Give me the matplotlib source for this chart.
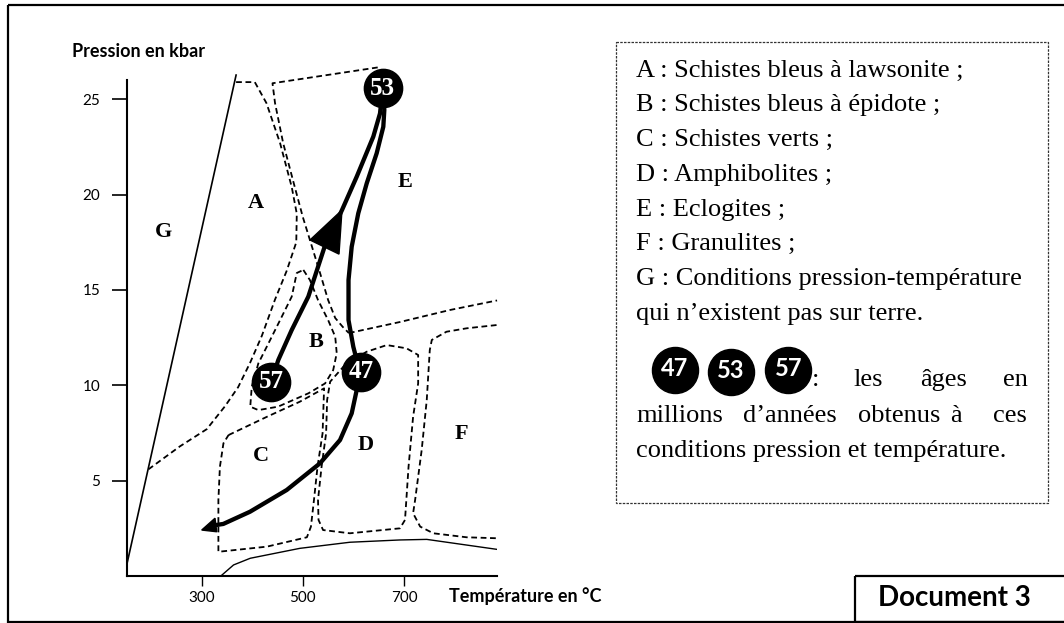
import matplotlib
matplotlib.use("Agg")
import matplotlib.pyplot as plt
from matplotlib.patches import Rectangle

plt.rcParams['font.family'] = ['Lato', 'DejaVu Sans']
SERIF = ['Liberation Serif', 'DejaVu Serif']

# ---- axes ----
x_ticks = [300, 500, 700]
y_ticks = [5, 10, 15, 20, 25]
x_label = "Température en °C"
y_label = "Pression en kbar"

# ---- field boundaries (T in °C, P in kbar) ----
# solid limit of domain G
g_line_T = [153, 368]
g_line_P = [0.73, 26.27]

# A: right edge then A/C limit down to the G line
a_bound_T = [368, 405, 428, 455, 478, 488, 487, 468, 445, 419, 396, 372, 346, 310, 257, 195]
a_bound_P = [25.9, 25.9, 24.8, 22.7, 20.4, 19.0, 17.5, 16.0, 14.5, 12.6, 11.2, 9.9, 8.9, 7.7, 6.8, 5.6]

# E: top and left edge
e_left_T = [648, 440, 445, 461, 484, 500, 514, 534, 550, 564, 579, 591]
e_left_P = [26.67, 25.84, 24.8, 22.71, 20.4, 18.82, 17.62, 15.89, 14.47, 13.53, 13.06, 12.74]

# E: lower edge
e_low_T = [591, 692, 791, 884]
e_low_P = [12.74, 13.32, 13.95, 14.45]

# B: closed loop
b_loop_T = [501, 514, 530, 550, 564, 567, 560, 544, 511, 451, 412, 396, 399, 412, 432, 455, 478, 488, 501]
b_loop_P = [16.05, 15.52, 14.47, 13.42, 12.55, 11.68, 10.8, 10.1, 9.58, 8.88, 8.7, 8.88, 9.93, 11.15, 12.2, 13.42, 14.65, 15.89, 16.05]

# C: closed loop
c_loop_T = [353, 429, 494, 542, 539, 529, 522, 516, 508, 429, 333, 333, 333, 336, 343, 353]
c_loop_P = [7.39, 8.35, 9.14, 9.84, 7.48, 5.73, 3.99, 2.59, 2.03, 1.54, 1.27, 2.25, 3.99, 5.73, 6.96, 7.39]

# D: closed loop
d_loop_T = [583, 554, 548, 546, 537, 530, 531, 540, 593, 692, 702, 709, 718, 728, 728, 705, 666, 626, 583]
d_loop_P = [11.06, 10.19, 9.23, 7.48, 5.73, 3.99, 2.94, 2.41, 2.24, 2.5, 2.94, 5.73, 8.35, 10.1, 11.59, 11.94, 12.11, 11.76, 11.06]

# F: open boundary
f_bound_T = [883, 824, 784, 755, 751, 745, 735, 722, 718, 732, 758, 824, 883]
f_bound_P = [13.16, 12.99, 12.81, 12.38, 11.85, 9.23, 6.61, 3.99, 3.29, 2.59, 2.24, 2.03, 1.98]

# thin solid curve near the base
base_line_T = [340, 363, 396, 494, 593, 692, 745, 883]
base_line_P = [0.05, 0.58, 0.93, 1.45, 1.77, 1.89, 1.92, 1.4]

# ---- P-T path ----
ages = ["57", "53", "47"]
age_T = [437.4, 657.9, 615.6]
age_P = [10.19, 25.59, 10.70]

path_up_T = [437.4, 451.5, 478, 510.8, 542.8, 577.4, 606.5, 639.3, 652.6, 657.9]
path_up_P = [10.19, 11.33, 12.9, 14.65, 17.25, 19.19, 20.94, 23.04, 24.26, 25.59]
head_up_T = [577.4, 514.1, 571.5]
head_up_P = [19.19, 17.62, 16.88]

path_top_T = [657.9, 661.1, 659.1, 646, 626.3, 609.6, 596.6, 590.3, 590.3, 599.8, 606.5, 615.6]
path_top_P = [25.59, 24.44, 23.56, 22.17, 20.59, 19.02, 17.27, 15.52, 13.42, 12.02, 11.33, 10.7]

path_down_T = [615.6, 606.5, 596.6, 573.5, 533.9, 468.1, 395.5, 342.7, 327.9]
path_down_P = [10.7, 9.75, 8.53, 7.13, 5.91, 4.51, 3.37, 2.73, 2.67]
head_down_T = [300, 326.3, 329.7]
head_down_P = [2.41, 3.03, 2.32]

# ---- field names ----
region_names = ["G", "A", "E", "B", "C", "D", "F"]
region_T = [224, 407, 702, 527, 417, 624, 814]
region_P = [18.05, 19.54, 20.68, 12.29, 6.29, 6.87, 7.43]

legend_lines = [
    "A : Schistes bleus à lawsonite ;",
    "B : Schistes bleus à épidote ;",
    "C : Schistes verts ;",
    "D : Amphibolites ;",
    "E : Eclogites ;",
    "F : Granulites ;",
    "G : Conditions pression-température",
    "qui n’existent pas sur terre.",
]
legend_ages = ["47", "53", "57"]

fig = plt.figure(figsize=(10.64, 6.23), dpi=100)

# page layer in pixel units (frame, legend box, titles)
page = fig.add_axes([0, 0, 1, 1])
page.set_xlim(0, 1064)
page.set_ylim(623, 0)
page.axis("off")

ax = fig.add_axes([126.7 / 1064, 1 - 576 / 623, (497 - 126.7) / 1064, (576 - 51.6) / 623])
ax.patch.set_alpha(0)
ax.set_xlim(151.7, 883.9)
ax.set_ylim(0, 27.5)
for s in ["top", "right"]:
    ax.spines[s].set_visible(False)
ax.spines["left"].set_bounds(0, 26.0)
ax.spines["left"].set_linewidth(1.5)
ax.spines["bottom"].set_linewidth(1.5)
ax.set_xticks(x_ticks)
ax.set_yticks(y_ticks)
ax.tick_params(axis="y", length=11, width=1.2, pad=8, labelsize=11)
ax.tick_params(axis="x", length=7, width=1.0, pad=3.5, labelsize=11)

dash = (0, (3.2, 2.0))
for T, P in [(a_bound_T, a_bound_P), (e_left_T, e_left_P), (e_low_T, e_low_P),
             (b_loop_T, b_loop_P), (c_loop_T, c_loop_P), (d_loop_T, d_loop_P),
             (f_bound_T, f_bound_P)]:
    ax.plot(T, P, color="black", lw=1.3, ls=dash, clip_on=False)

ax.plot(g_line_T, g_line_P, color="black", lw=1.2, clip_on=False)
ax.plot(base_line_T, base_line_P, color="black", lw=1.0)

for T, P in [(path_up_T, path_up_P), (path_top_T, path_top_P), (path_down_T, path_down_P)]:
    ax.plot(T, P, color="black", lw=3.1, solid_capstyle="round", solid_joinstyle="round", zorder=3)
ax.fill(head_up_T, head_up_P, color="black", zorder=3)
ax.fill(head_down_T, head_down_P, color="black", zorder=3)

ax.scatter(age_T, age_P, s=760, color="black", zorder=5, clip_on=False)
for name, T, P in zip(ages, age_T, age_P):
    ax.text(T, P, name, color="white", fontsize=18, fontweight="bold", family=SERIF,
            ha="center", va="center", zorder=6)

for name, T, P in zip(region_names, region_T, region_P):
    ax.text(T, P, name, fontsize=16, fontweight="bold", family=SERIF, ha="center", va="center")

# axis titles
page.text(71.7, 51.7, y_label, fontsize=13, fontweight="bold", va="center", ha="left")
page.text(449, 595.7, x_label, fontsize=13, fontweight="bold", va="center", ha="left")

# outer frame
page.add_patch(Rectangle((7.6, 5), 1070, 616.7, fill=False, lw=1.6, edgecolor="black"))

# legend box
page.add_patch(Rectangle((615.7, 41.7), 432.3, 461.6, fill=False, lw=0.9,
                         ls=(0, (2, 1)), edgecolor="#333333"))
for i, line in enumerate(legend_lines):
    page.text(636, 76.7 + 34.75 * i, line, fontsize=19, family=SERIF, va="baseline", ha="left")

page.scatter([675, 730.7, 788.3], [370, 371.7, 370], s=1100, color="black", zorder=4)
for lab, x, y in zip(legend_ages, [675, 730.7, 788.3], [370, 371.7, 370]):
    page.text(x, y - 1, lab, color="white", fontsize=17, fontweight="bold",
              ha="center", va="center", zorder=5)

for word, x in [(":", 811.5), ("les", 853.3), ("âges", 920), ("en", 1003.3)]:
    page.text(x, 386, word, fontsize=19, family=SERIF, va="baseline", ha="left")
for word, x in [("millions", 636), ("d’années", 743.3), ("obtenus", 858.3), ("à", 950), ("ces", 993.3)]:
    page.text(x, 421.7, word, fontsize=19, family=SERIF, va="baseline", ha="left")
page.text(636, 456.7, "conditions pression et température.", fontsize=19, family=SERIF,
          va="baseline", ha="left")

# document tag
page.add_patch(Rectangle((854.7, 576), 230, 46, fill=False, lw=1.6, edgecolor="black"))
page.text(877.7, 598, "Document 3", fontsize=20, fontweight="bold", va="center", ha="left")

fig.savefig("out.png", dpi=100)
